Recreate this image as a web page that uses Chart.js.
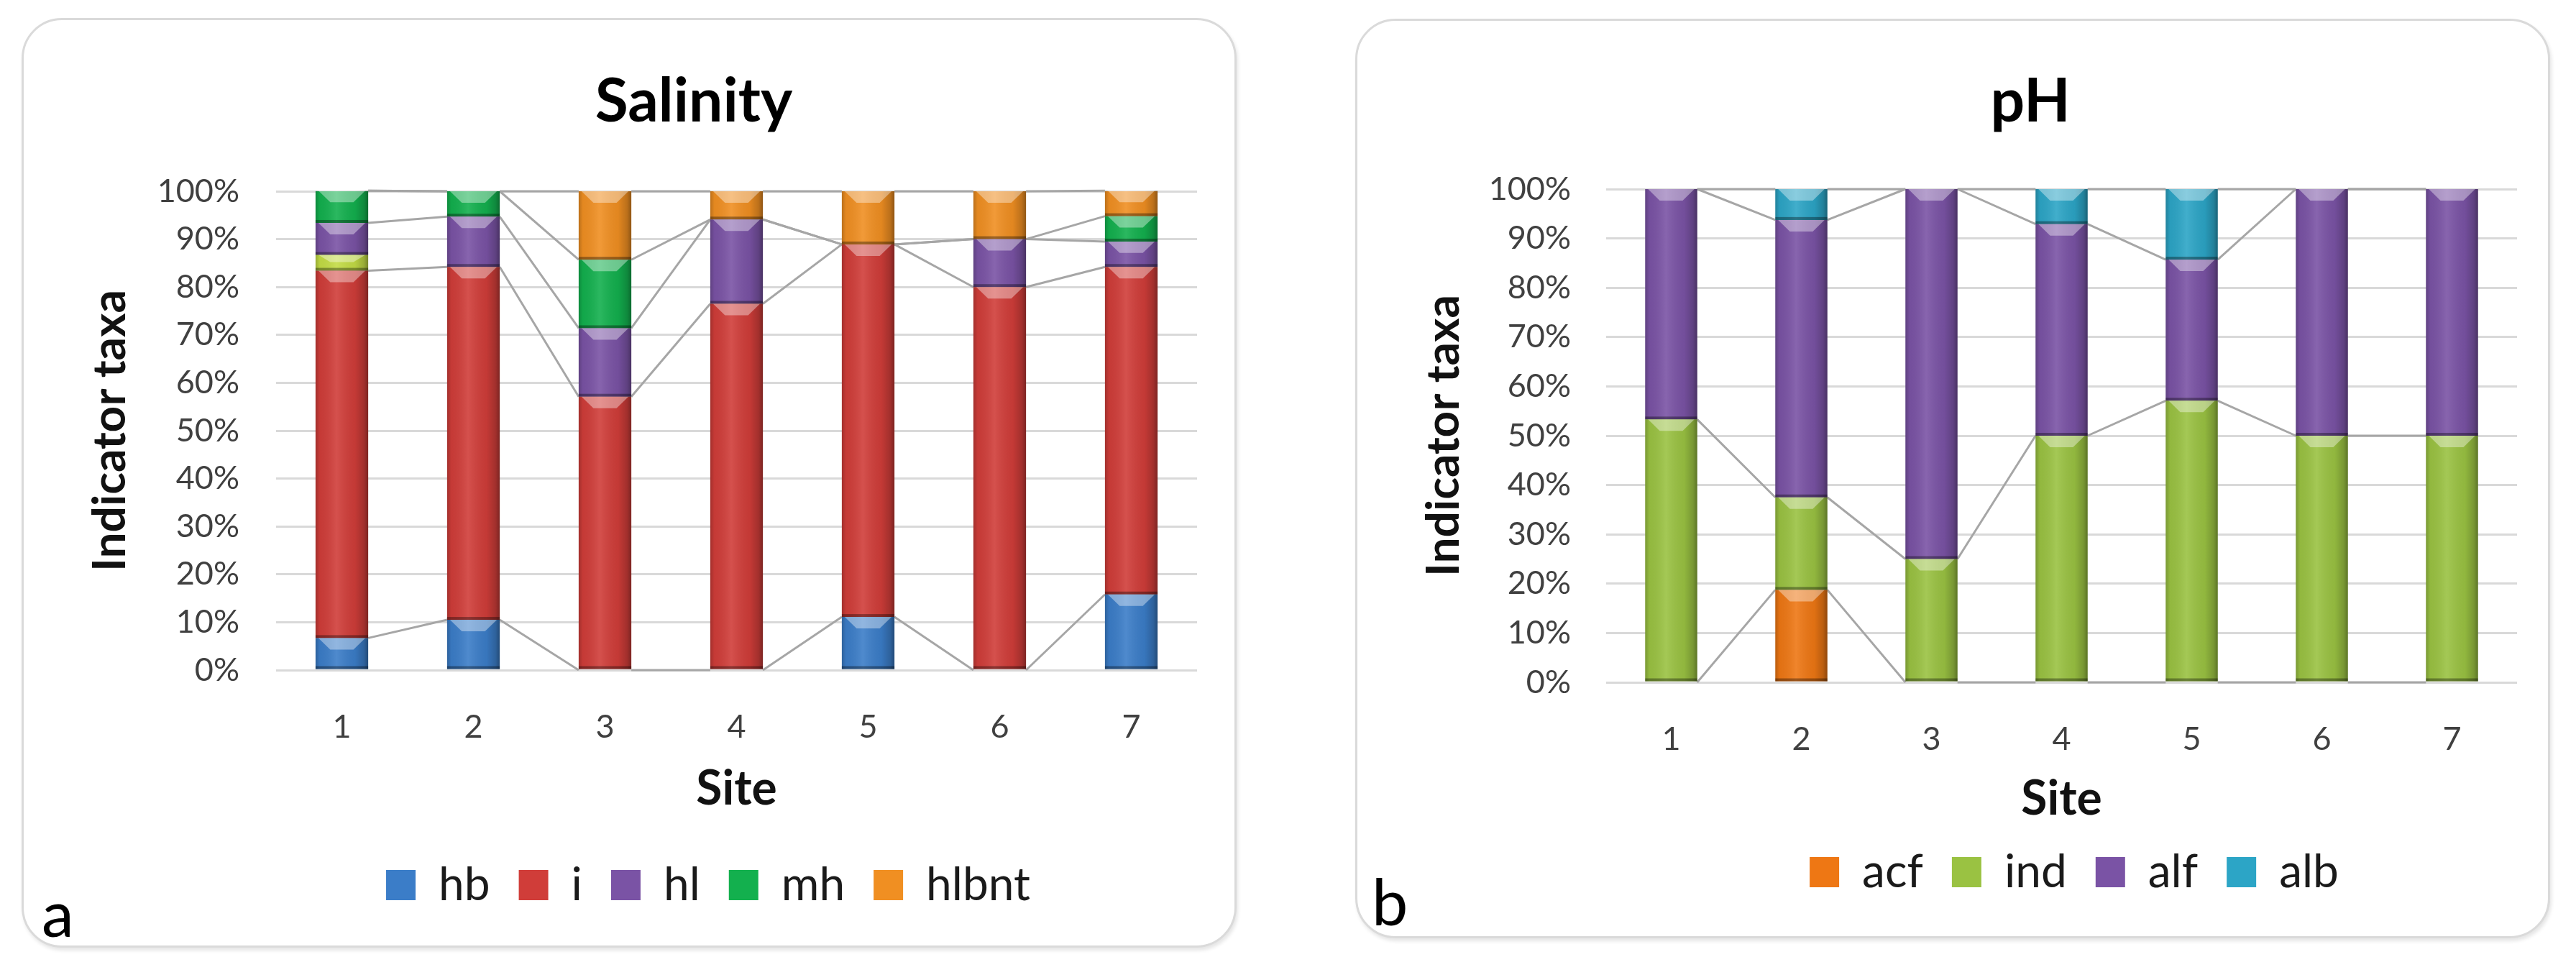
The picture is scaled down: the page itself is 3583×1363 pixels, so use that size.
<!DOCTYPE html>
<html>
<head>
<meta charset="utf-8">
<script src="https://cdn.jsdelivr.net/npm/chart.js@4.4.1/dist/chart.umd.min.js"></script>
<style>
  html, body { margin: 0; padding: 0; background: #fff; }
  body { width: 3583px; height: 1363px; position: relative; overflow: hidden; font-family: Lato, sans-serif; }
  .panel { position: absolute; box-sizing: border-box; border: 3px solid #dadada; border-radius: 56px; box-shadow: 2px 4px 5px rgba(0,0,0,0.10); background: #fff; }
  .chart-box { position: absolute; }
  .title { position: absolute; width: 800px; text-align: center; font: bold 84px Lato, sans-serif; color: #000; line-height: 100px; }
  .tag { position: absolute; font: 90px Lato, sans-serif; color: #000; line-height: 100px; }
</style>
</head>
<body>
<div class="panel" style="left:30px;top:25px;width:1690px;height:1293px;"></div>
<div class="panel" style="left:1885px;top:26px;width:1662px;height:1279px;"></div>
<div class="chart-box" style="left:33px;top:28px;width:1684px;height:1287px;"><canvas id="salChart"></canvas></div>
<div class="chart-box" style="left:1888px;top:29px;width:1656px;height:1273px;"><canvas id="phChart"></canvas></div>
<div class="title" style="left:565px;top:87px;">Salinity</div>
<div class="title" style="left:2424px;top:87px;">pH</div>
<div class="tag" style="left:58px;top:1218px;">a</div>
<div class="tag" style="left:1908px;top:1202px;">b</div>

<script>
// ── DATA ──────────────────────────────────────────────────────────────────────
const sites = ['1', '2', '3', '4', '5', '6', '7'];
const yTicks = [0, 10, 20, 30, 40, 50, 60, 70, 80, 90, 100];

// Salinity indicator taxa (% of taxa per site)
const salHb    = [6.7, 10.5, 0, 0, 11.1, 0, 15.8];
const salI     = [76.7, 73.7, 57.1, 76.5, 77.8, 80, 68.4];
const salOther = [3.3, 0, 0, 0, 0, 0, 0];          // unlabelled segment, not in legend
const salHl    = [6.7, 10.5, 14.3, 17.6, 0, 10, 5.3];
const salMh    = [6.7, 5.3, 14.3, 0, 0, 0, 5.3];
const salHlbnt = [0, 0, 14.3, 5.9, 11.1, 10, 5.3];

// pH indicator taxa
const phAcf = [0, 18.75, 0, 0, 0, 0, 0];
const phInd = [53.3, 18.75, 25, 50, 57.1, 50, 50];
const phAlf = [46.7, 56.25, 75, 42.9, 28.6, 50, 50];
const phAlb = [0, 6.25, 0, 7.1, 14.3, 0, 0];

// ── PLUGINS ───────────────────────────────────────────────────────────────────
// Excel-style series lines joining the top of each series between bars
const seriesLines = {
  id: 'seriesLines',
  beforeDatasetsDraw(chart) {
    const { ctx } = chart;
    const y = chart.scales.y;
    const n = chart.data.labels.length;
    const cum = new Array(n).fill(0);
    ctx.save();
    ctx.strokeStyle = '#a6a6a6';
    ctx.lineWidth = 3;
    chart.data.datasets.forEach((ds, di) => {
      const meta = chart.getDatasetMeta(di);
      for (let i = 0; i < n; i++) cum[i] += ds.data[i];
      if (ds.noLines) return;
      for (let i = 0; i < n - 1; i++) {
        const a = meta.data[i], b = meta.data[i + 1];
        ctx.beginPath();
        ctx.moveTo(a.x + a.width / 2, y.getPixelForValue(cum[i]));
        ctx.lineTo(b.x - b.width / 2, y.getPixelForValue(cum[i + 1]));
        ctx.stroke();
      }
    });
    ctx.restore();
  }
};

// bevel look on the bars: side shading, light top notch, dark base line
const bevel = {
  id: 'bevel',
  afterDatasetsDraw(chart) {
    const { ctx } = chart;
    ctx.save();
    chart.data.datasets.forEach((ds, di) => {
      chart.getDatasetMeta(di).data.forEach(bar => {
        const top = Math.min(bar.y, bar.base), bot = Math.max(bar.y, bar.base);
        const h = bot - top;
        if (h < 1) return;
        const l = bar.x - bar.width / 2, w = bar.width;
        const g = ctx.createLinearGradient(l, 0, l + w, 0);
        g.addColorStop(0, 'rgba(0,0,0,0.22)');
        g.addColorStop(0.08, 'rgba(0,0,0,0.05)');
        g.addColorStop(0.4, 'rgba(255,255,255,0.10)');
        g.addColorStop(0.75, 'rgba(0,0,0,0.06)');
        g.addColorStop(0.92, 'rgba(0,0,0,0.22)');
        g.addColorStop(1, 'rgba(0,0,0,0.40)');
        ctx.fillStyle = g;
        ctx.fillRect(l, top, w, h);
        const bh = Math.min(16, h * 0.45);
        ctx.fillStyle = 'rgba(255,255,255,0.38)';
        ctx.beginPath();
        ctx.moveTo(l + 4, top);
        ctx.lineTo(l + w - 4, top);
        ctx.lineTo(l + w * 0.72, top + bh);
        ctx.lineTo(l + w * 0.28, top + bh);
        ctx.closePath();
        ctx.fill();
        ctx.fillStyle = 'rgba(0,0,0,0.35)';
        ctx.fillRect(l, bot - Math.min(4, h * 0.2), w, Math.min(4, h * 0.2));
      });
    });
    ctx.restore();
  }
};

// slide the legend sideways so it sits where the original put it
const legendShift = {
  id: 'legendShift',
  afterLayout(chart, args, opts) {
    const lg = chart.legend;
    if (!lg || opts.cx == null) return;
    const dx = opts.cx - (lg.left + lg.right) / 2;
    lg.left += dx;
    lg.right += dx;
  }
};

// ── CHART BUILDER ─────────────────────────────────────────────────────────────
function buildChart(id, datasets, lay) {
  return new Chart(document.getElementById(id), {
    type: 'bar',
    data: { labels: sites, datasets },
    options: {
      responsive: true, maintainAspectRatio: false, animation: false,
      layout: { padding: { left: 0, right: lay.padR, top: lay.padT, bottom: lay.padB } },
      datasets: { bar: { barPercentage: 0.4, categoryPercentage: 1, borderWidth: 0 } },
      plugins: {
        title: { display: false },
        tooltip: { enabled: false },
        legendShift: { cx: lay.legendCx },
        legend: {
          position: 'bottom', fullSize: false,
          labels: {
            filter: item => item.text !== '',
            font: { family: 'Lato', size: 64 }, color: '#1a1a1a',
            boxWidth: 41, boxHeight: 42, padding: 40
          }
        }
      },
      scales: {
        x: {
          stacked: true,
          grid: { display: false },
          border: { display: false },
          ticks: { font: { family: 'Lato', size: 45 }, color: '#404040', padding: lay.xTickPad },
          title: { display: true, text: 'Site', font: { family: 'Lato', size: 66, weight: 'bold', lineHeight: 0.9 }, color: '#111', padding: { top: 0, bottom: lay.xTitlePad } },
          afterFit: s => { s.height = lay.xH; }
        },
        y: {
          stacked: true, min: 0, max: 100,
          afterBuildTicks: s => { s.ticks = yTicks.map(v => ({ value: v })); },
          grid: { color: '#d9d9d9', lineWidth: 3, drawTicks: false },
          border: { display: false },
          ticks: { font: { family: 'Lato', size: 45 }, color: '#404040', padding: lay.yTickPad, callback: v => v + '%' },
          title: { display: true, text: 'Indicator taxa', font: { family: 'Lato', size: 64, weight: 'bold' }, color: '#111', padding: { top: lay.yTitlePad, bottom: 0 } },
          afterFit: s => { s.width = lay.yW; }
        }
      }
    },
    plugins: [seriesLines, bevel, legendShift]
  });
}

buildChart('salChart', [
  { label: 'hb',    data: salHb,    backgroundColor: '#3b7dc8' },
  { label: 'i',     data: salI,     backgroundColor: '#d03d39' },
  { label: '',      data: salOther, backgroundColor: '#c3dc45', noLines: true },
  { label: 'hl',    data: salHl,    backgroundColor: '#7a53a5' },
  { label: 'mh',    data: salMh,    backgroundColor: '#13b04e' },
  { label: 'hlbnt', data: salHlbnt, backgroundColor: '#f08f22' }
], { padR: 52, padT: 238, padB: 42, yW: 351, yTickPad: 51, yTitlePad: 82, xH: 227, xTickPad: 44, xTitlePad: 32, legendCx: 952 });

buildChart('phChart', [
  { label: 'acf', data: phAcf, backgroundColor: '#ee7714' },
  { label: 'ind', data: phInd, backgroundColor: '#9ac242' },
  { label: 'alf', data: phAlf, backgroundColor: '#7a53a5' },
  { label: 'alb', data: phAlb, backgroundColor: '#2ca5c6' }
], { padR: 43, padT: 234, padB: 47, yW: 346, yTickPad: 49, yTitlePad: 82, xH: 192, xTickPad: 44, xTitlePad: 0, legendCx: 997 });
</script>
</body>
</html>
